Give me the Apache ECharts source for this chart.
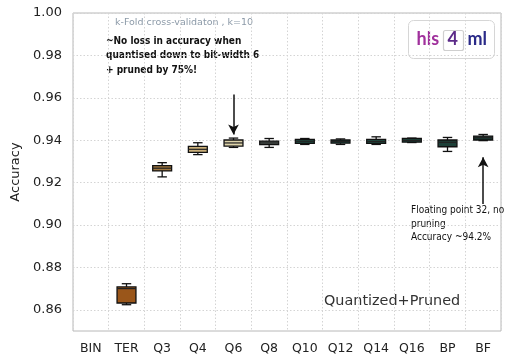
<!DOCTYPE html>
<html><head><meta charset="utf-8">
<script src="https://cdn.jsdelivr.net/npm/echarts@6/dist/echarts.min.js"></script>
<style>html,body{margin:0;padding:0;background:#fff}#c{width:506px;height:355px}</style>
</head><body><div id="c"></div>
<script>
const categories = ['BIN','TER','Q3','Q4','Q6','Q8','Q10','Q12','Q14','Q16','BP','BF'];
const whiskerLow  = [null,0.8624,0.9227,0.9332,0.9366,0.9366,0.9380,0.9380,0.9380,0.9389,0.9347,0.9398];
const quart1      = [null,0.8632,0.9255,0.9343,0.9372,0.9379,0.9385,0.9386,0.9385,0.9391,0.9369,0.9401];
const medians     = [null,0.8700,0.9268,0.9357,0.9387,0.9387,0.9395,0.9394,0.9394,0.9398,0.9390,0.9412];
const quart3      = [null,0.8708,0.9280,0.9371,0.9401,0.9396,0.9404,0.9401,0.9404,0.9408,0.9401,0.9419];
const whiskerHigh = [null,0.8723,0.9294,0.9388,0.9410,0.9408,0.9408,0.9406,0.9416,0.9410,0.9413,0.9427];
const boxColors = ['#ffffff','#9a561a','#a0773f','#c9ae78','#ddd3aa','#56605a','#1f4a40','#1f4a40','#1f4a40','#1f4a40','#1d4038','#1a3a33'];
const yTicks = [0.86,0.88,0.90,0.92,0.94,0.96,0.98,1.00];

const data = [];
categories.forEach((c,i)=>{
  if (medians[i] == null) return;
  data.push([i, whiskerLow[i], quart1[i], medians[i], quart3[i], whiskerHigh[i]]);
});

const chart = echarts.init(document.getElementById('c'), null, {renderer:'canvas'});
const FONT = 'DejaVu Sans';
const ANN = 'DejaVu Sans Condensed';
chart.setOption({
  animation:false,
  grid:{left:73,right:5,top:13,bottom:24,show:true,borderColor:'#b8b8b8',borderWidth:1},
  xAxis:{type:'category',data:categories,boundaryGap:true,
    axisLine:{show:false},axisTick:{show:false},
    axisLabel:{color:'#222',fontFamily:FONT,fontSize:12.5,margin:11},
    splitLine:{show:true,lineStyle:{color:'#d4d4d4',type:[1.5,2],width:1}}},
  yAxis:{type:'value',min:0.85,max:1.0,
    name:'Accuracy',nameLocation:'middle',nameGap:45,nameRotate:90,
    nameTextStyle:{color:'#222',fontFamily:FONT,fontSize:13},
    axisLine:{show:false},
    axisTick:{show:false,customValues:yTicks},
    axisLabel:{color:'#222',fontFamily:FONT,fontSize:13,margin:11,customValues:yTicks,formatter:v=>v.toFixed(2)},
    splitLine:{show:true,lineStyle:{color:'#d4d4d4',type:[1.5,2],width:1}}},
  series:[{
    type:'custom',
    data:data,
    renderItem:function(params,api){
      const i=api.value(0);
      const band=api.size([1,0])[0];
      const bw=band*0.53, cw=bw*0.5;
      const pLo=api.coord([i,api.value(1)]), pQ1=api.coord([i,api.value(2)]), pMd=api.coord([i,api.value(3)]), pQ3=api.coord([i,api.value(4)]), pHi=api.coord([i,api.value(5)]);
      const x=pMd[0];
      const ls={stroke:'#111',lineWidth:1.3};
      return {type:'group',children:[
        {type:'line',shape:{x1:x,y1:pQ3[1],x2:x,y2:pHi[1]},style:ls},
        {type:'line',shape:{x1:x,y1:pQ1[1],x2:x,y2:pLo[1]},style:ls},
        {type:'line',shape:{x1:x-cw/2,y1:pHi[1],x2:x+cw/2,y2:pHi[1]},style:ls},
        {type:'line',shape:{x1:x-cw/2,y1:pLo[1],x2:x+cw/2,y2:pLo[1]},style:ls},
        {type:'rect',shape:{x:x-bw/2,y:pQ3[1],width:bw,height:pQ1[1]-pQ3[1]},style:{fill:boxColors[i],stroke:'#111',lineWidth:1.3}},
        {type:'line',shape:{x1:x-bw/2,y1:pMd[1],x2:x+bw/2,y2:pMd[1]},style:{stroke:'#222',lineWidth:1.2}}
      ]};
    },
    z:5
  },{
    type:'line',data:[],silent:true,
    markLine:{silent:true,symbol:['none','arrow'],symbolSize:[8,10],label:{show:false},
      lineStyle:{color:'#111',width:1.5,type:'solid'},
      data:[
        [{coord:['Q6',0.9615]},{coord:['Q6',0.9427]}],
        [{coord:['BF',0.9099]},{coord:['BF',0.9319]}]
      ]}
  }],
  graphic:[
    {type:'text',left:115,top:18,style:{text:'k-Fold cross-validaton , k=10',fill:'#8c9aa8',font:'9.5px '+FONT}},
    {type:'text',left:106,top:34,style:{text:'~No loss in accuracy when\nquantised down to bit-width 6\n+ pruned by 75%!',fill:'#111',font:'bold 10px '+ANN,lineHeight:14.5}},
    {type:'text',left:411,top:204,style:{text:'Floating point 32, no\npruning\nAccuracy ~94.2%',fill:'#111',font:'10px '+ANN,lineHeight:13.5}},
    {type:'text',left:324,top:294,style:{text:'Quantized+Pruned',fill:'#333',font:'14.4px '+FONT}},
    {type:'group',left:408,top:20,children:[
      {type:'rect',shape:{x:0,y:0,width:86,height:38,r:5},style:{fill:'#fff',stroke:'#d6d6d6',lineWidth:1}},
      {type:'rect',shape:{x:35,y:10,width:20,height:20,r:2},style:{fill:'#fff',stroke:'#cfcfcf',lineWidth:1.2}},
      {type:'text',x:8,y:10,style:{text:'hls',fill:'#a0309c',font:'bold 18px Lato'}},
      {type:'text',x:39,y:10,style:{text:'4',fill:'#5b2a88',font:'bold 18px Lato'}},
      {type:'text',x:59,y:10,style:{text:'ml',fill:'#2a2a88',font:'bold 18px Lato'}}
    ]}
  ]
});
</script></body></html>
